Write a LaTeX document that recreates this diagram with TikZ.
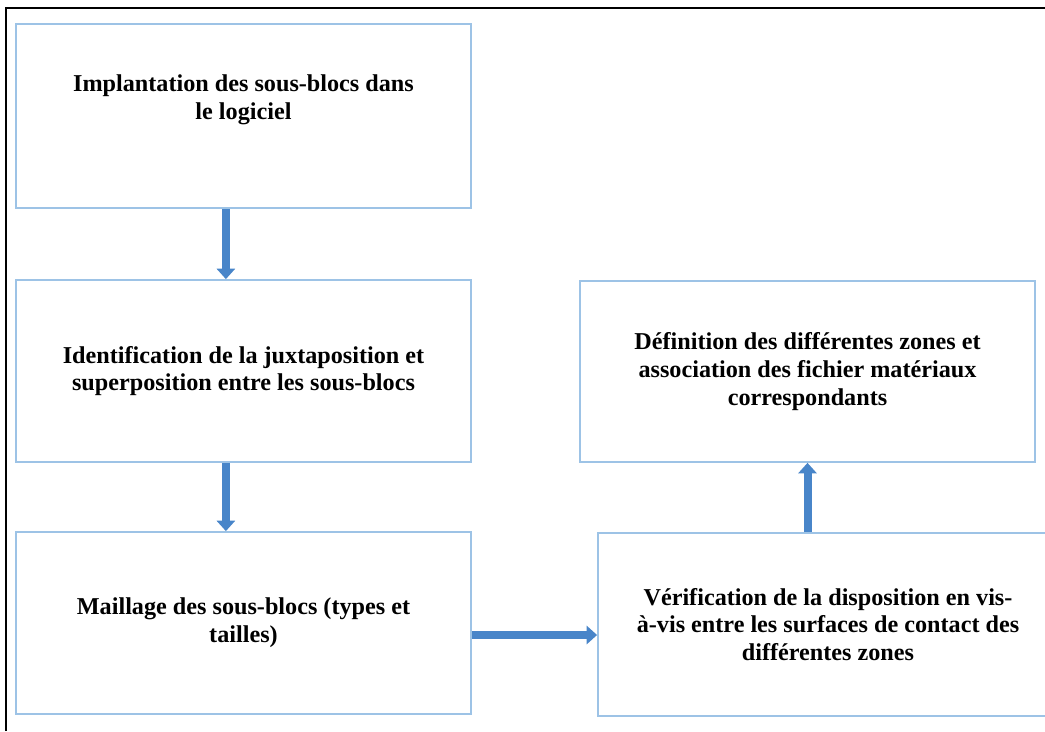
\documentclass[tikz,border=0pt]{standalone}
\usepackage{fontspec}
\setmainfont{Liberation Serif}
\usetikzlibrary{arrows.meta}
\definecolor{bordbleu}{RGB}{157,195,230}
\definecolor{flechebleu}{RGB}{72,133,201}
\begin{document}
\begin{tikzpicture}[x=0.025cm, y=-0.025cm,
		texte/.style={align=center, font=\fontsize{17.2}{19.8}\selectfont\bfseries},
		boite/.style={texte, draw=bordbleu, line width=1.2pt, minimum width=11.375cm, minimum height=4.55cm},
		fleche/.style={draw=flechebleu, line width=0.2cm, -{Triangle[width=0.45cm, length=0.26cm]}}]
			\useasboundingbox (0, 0) rectangle (1045, 731);
			\draw[line width=1.8pt] (6, 731) -- (6, 8) -- (1045, 8);

			\node[boite, minimum height=4.6cm] (impl) at (243.5, 116) {};
			\node[texte] at ([yshift=0.4cm]impl.center) {Implantation des sous-blocs dans\\ le logiciel};
			\node[boite] (ident) at (243.5, 371) {Identification de la juxtaposition et\\ superposition entre les sous-blocs};
			\node[boite] (maill) at (243.5, 623) {Maillage des sous-blocs (types et\\ tailles)};
			\node[boite, minimum height=4.525cm] (defin) at (807.5, 371.5) {Définition des différentes zones et\\ association des fichier matériaux\\ correspondants};
			\node[boite, minimum width=11.5cm, minimum height=4.575cm] (verif) at (828, 624.5) {Vérification de la disposition en vis-\\ à-vis entre les surfaces de contact des\\ différentes zones};

			\draw[fleche] ([xshift=-0.44cm]impl.south) -- ([xshift=-0.44cm]ident.north);
			\draw[fleche] ([xshift=-0.44cm]ident.south) -- ([xshift=-0.44cm]maill.north);
			\draw[fleche] ([yshift=-0.3cm]maill.east) -- ([yshift=-0.3cm]maill.east -| verif.west);
			\draw[fleche] (verif.north -| defin.south) -- (defin.south);
		\end{tikzpicture}
\end{document}
